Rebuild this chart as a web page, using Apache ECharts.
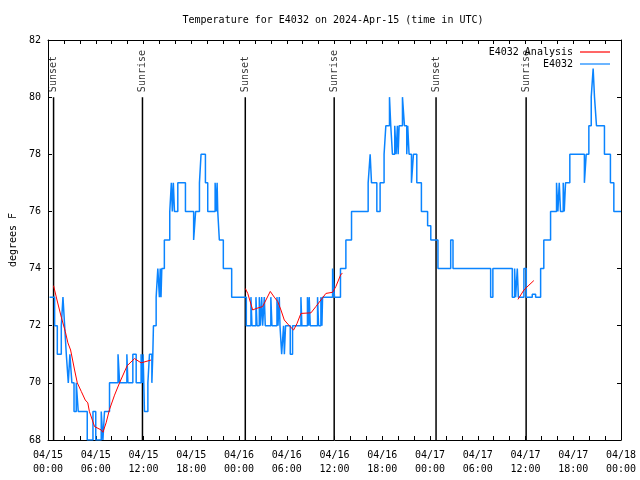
<!DOCTYPE html>
<html><head><meta charset="utf-8">
<script src="https://cdn.jsdelivr.net/npm/echarts@6/dist/echarts.min.js"></script>
<style>html,body{margin:0;padding:0;background:#fff}#c{width:640px;height:480px}</style>
</head><body><div id="c"></div>
<script>
// ---- data (hours since 2024-04-15 00:00 UTC) ----
const titleText = 'Temperature for E4032 on 2024-Apr-15 (time in UTC)';
const xTickLabels = ['04/15\n00:00','04/15\n06:00','04/15\n12:00','04/15\n18:00','04/16\n00:00','04/16\n06:00','04/16\n12:00','04/16\n18:00','04/17\n00:00','04/17\n06:00','04/17\n12:00','04/17\n18:00','04/18\n00:00'];
const yTickLabels = ['68','70','72','74','76','78','80','82'];

// E4032 station observations (step changes: time, new value)
const obsHours = [0.2,0.83,1.17,1.67,1.88,2.09,2.3,2.55,2.75,3.0,3.27,3.55,3.8,4.93,5.65,6.0,6.69,6.9,7.1,7.73,8.8,9.0,9.91,10.04,10.66,11.08,11.7,11.85,11.95,12.12,12.55,12.75,13.05,13.17,13.25,
  13.59,13.8,14.0,14.1,14.2,14.3,14.62,15.3,15.5,15.62,15.75,15.89,16.31,17.27,18.3,18.55,19.03,19.23,19.78,20.07,21.0,21.15,21.25,21.33,21.53,22.03,23.08,24.92,
  25.5,25.63,26.13,26.26,26.55,26.68,26.85,26.97,27.18,27.3,28.0,28.14,28.77,28.9,29.06,29.15,29.36,29.6,29.7,29.85,30.44,30.73,31.78,31.9,32.6,32.74,32.82,32.95,33.87,34.0,34.29,34.42,34.5,35.76,36.0,36.75,37.43,38.14,
  40.23,40.48,40.65,41.32,41.73,42.23,42.45,42.91,43.07,43.28,43.57,43.74,43.9,44.0,44.12,44.54,44.79,45.08,45.2,45.37,45.67,45.92,46.34,46.92,47.7,48.1,49.0,
  50.6,50.89,55.62,55.9,58.34,58.63,58.76,58.97,59.1,59.8,60.1,60.85,61.27,61.9,62.3,63.15,63.9,64.07,64.24,64.4,64.74,64.87,65.03,65.57,67.4,67.63,67.96,68.26,68.5,68.67,68.92,69.92,70.67,71.1,72];
const obsTemp = [73,72,71,72,73,72,71,70,71,70,69,70,69,68,69,68,69,68,69,70,71,70,71,70,71,70,71,70,71,69,70,71,70,71,72,
  73,74,73,74,73,74,75,76,77,76,77,76,77,76,75,76,77,78,77,76,77,76,77,76,75,74,73,72,
  73,72,73,72,73,72,73,72,73,72,73,72,73,72,73,72,71,72,71,72,71,72,73,72,73,72,73,72,73,72,73,72,73,74,73,74,75,76,
  77,78,77,76,77,78,79,80,79,78,79,78,79,78,79,80,79,78,79,78,77,78,77,76,75.5,75,74,
  75,74,73,74,73,74,73,74,73,74,73,73.1,73,74,75,76,77,76,77,76,77,76,77,78,77,78,79,80,81,80,79,78,77,76,76];

// E4032 Analysis (three separate night segments)
const anaHours1 = [0.70,1.13,1.67,2.17,2.5,2.84,3.05,3.34,3.68,4.18,4.68,5.0,5.2,5.85,6.69,6.9,7.3,7.73,8.36,8.99,9.95,10.87,11.7,12.96];
const anaTemp1  = [73.4,72.9,72.3,71.8,71.4,71.15,71.1,70.45,70.0,69.7,69.4,69.3,69.0,68.47,68.35,68.27,68.6,69.07,69.57,70.0,70.6,70.85,70.7,70.8];
const anaHours2 = [24.8,25.1,25.72,26.13,26.97,27.93,28.43,28.86,29.27,29.69,30.32,30.86,31.28,31.78,33.04,33.66,34.29,34.92,35.76,36.17,36.8,37.0];
const anaTemp2  = [73.3,73.13,72.55,72.6,72.67,73.2,73.0,72.85,72.55,72.2,72.0,71.85,72.07,72.43,72.45,72.67,72.9,73.13,73.17,73.37,73.8,73.83];
const anaHours3 = [59.05,59.8,60.43,61.05];
const anaTemp3  = [72.92,73.25,73.42,73.58];

// Sunrise / sunset markers
const eventNames = ['Sunset','Sunrise','Sunset','Sunrise','Sunset','Sunrise'];
const eventHours = [0.70,11.87,24.79,35.96,48.76,60.08];
const eventBottom = 68, eventTop = 80;

// ---- build ----
const FONT = 'DejaVu Sans Mono';
const BLUE = '#0a84ff', RED = '#ff0000';
const pairs = (h, v) => h.map((x, i) => [x, v[i]]);
const obsData = pairs(obsHours, obsTemp);
const anaData = [...pairs(anaHours1, anaTemp1), [18, '-'], ...pairs(anaHours2, anaTemp2), [50, '-'], ...pairs(anaHours3, anaTemp3)];
const evLines = [];
eventHours.forEach(t => { evLines.push([t, eventBottom], [t, eventTop], [t, '-']); });
const evLabels = eventHours.map((t, i) => ({ value: [t, eventTop], name: eventNames[i] }));

const axisBlack = { color: '#000', width: 1 };
const xBase = {
  type: 'value', min: 0, max: 72, interval: 6,
  axisLine: { show: true, onZero: false, lineStyle: axisBlack },
  axisTick: { show: true, inside: true, length: 4, lineStyle: axisBlack },
  minorTick: { show: true, splitNumber: 3, length: 4, lineStyle: axisBlack },
  splitLine: { show: false }, minorSplitLine: { show: false }
};
const yBase = {
  type: 'value', min: 68, max: 82, interval: 2,
  axisLine: { show: true, onZero: false, lineStyle: axisBlack },
  axisTick: { show: true, inside: true, length: 4, lineStyle: axisBlack },
  splitLine: { show: false }
};

const chart = echarts.init(document.getElementById('c'), null, { renderer: 'canvas' });
chart.setOption({
  backgroundColor: '#fff',
  animation: false,
  title: {
    text: titleText, left: 328, top: 10, textAlign: 'center',
    textStyle: { fontFamily: FONT, fontSize: 10, fontWeight: 'normal', color: '#000' }
  },
  legend: {
    data: ['E4032 Analysis', 'E4032'],
    orient: 'vertical', right: 25, top: 42, align: 'right',
    icon: 'rect', itemWidth: 30, itemHeight: 1.2, itemGap: 2,
    textStyle: { fontFamily: FONT, fontSize: 10, color: '#000', padding: [0, 2, 0, 0] }
  },
  grid: { left: 47, right: 19, top: 40, bottom: 40 },
  xAxis: [
    Object.assign({}, xBase, { position: 'bottom',
      axisLabel: { formatter: v => xTickLabels[Math.round(v / 6)], fontFamily: FONT, fontSize: 10, color: '#000', margin: 8, lineHeight: 14 } }),
    Object.assign({}, xBase, { position: 'top', axisLabel: { show: false } })
  ],
  yAxis: [
    Object.assign({}, yBase, { position: 'left',
      name: 'degrees F', nameLocation: 'middle', nameGap: 30, nameRotate: 90,
      nameTextStyle: { fontFamily: FONT, fontSize: 10, color: '#000' },
      axisLabel: { formatter: v => yTickLabels[Math.round((v - 68) / 2)], fontFamily: FONT, fontSize: 10, color: '#000', margin: 7 } }),
    Object.assign({}, yBase, { position: 'right', axisLabel: { show: false } })
  ],
  series: [
    { name: 'events', type: 'line', data: evLines, symbol: 'none', connectNulls: false,
      lineStyle: { color: '#000', width: 1.5 }, itemStyle: { color: '#000' }, z: 1, silent: true },
    { name: 'eventLabels', type: 'scatter', data: evLabels, symbolSize: 0, silent: true,
      label: { show: true, formatter: '{b}', position: 'top', distance: 5, rotate: 90, align: 'left', verticalAlign: 'middle',
        fontFamily: FONT, fontSize: 10, color: '#000' } },
    { name: 'E4032', type: 'line', step: 'end', data: obsData, symbol: 'none',
      lineStyle: { color: BLUE, width: 1.5 }, itemStyle: { color: BLUE }, z: 2 },
    { name: 'E4032 Analysis', type: 'line', data: anaData, symbol: 'none', connectNulls: false,
      lineStyle: { color: RED, width: 1 }, itemStyle: { color: RED }, z: 3 }
  ]
});
</script></body></html>
